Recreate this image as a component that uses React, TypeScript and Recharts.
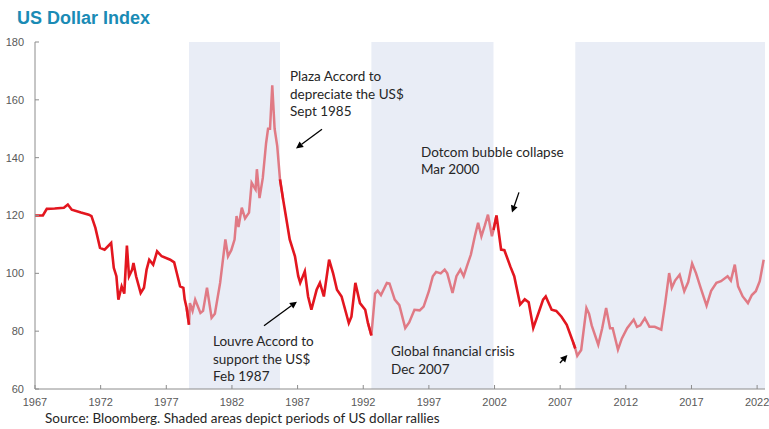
import React from "react";
import {
  ComposedChart,
  Line,
  XAxis,
  YAxis,
  ReferenceArea,
  ReferenceLine,
} from "recharts";

// decimal year of each reading
const years = [
  1967.0, 1967.6, 1967.9, 1968.5, 1969.2, 1969.5, 1969.8, 1970.5, 1971.1, 1971.3,
  1971.6, 1971.95, 1972.3, 1972.8, 1973.0, 1973.2, 1973.35, 1973.6, 1973.8, 1974.0,
  1974.16, 1974.4, 1974.5, 1974.7, 1975.05, 1975.3, 1975.5, 1975.7, 1976.0, 1976.3,
  1976.65, 1977.3, 1977.6, 1977.8, 1978.05, 1978.3, 1978.4, 1978.55, 1978.73, 1978.8,
  1979.0, 1979.2, 1979.6, 1979.8, 1980.1, 1980.45, 1980.7, 1981.1, 1981.5, 1981.7,
  1981.95, 1982.2, 1982.35, 1982.5, 1982.75, 1983.0, 1983.3, 1983.5, 1983.8, 1983.9,
  1984.1, 1984.35, 1984.6, 1984.75, 1984.9, 1985.07, 1985.25, 1985.45, 1985.66, 1985.9,
  1986.1, 1986.4, 1986.8, 1987.05, 1987.2, 1987.55, 1987.8, 1988.05, 1988.45, 1988.7,
  1989.0, 1989.4, 1989.7, 1990.0, 1990.35, 1990.9, 1991.1, 1991.4, 1991.75, 1992.15,
  1992.35, 1992.62, 1992.9, 1993.1, 1993.35, 1993.8, 1994.0, 1994.4, 1994.75, 1995.2,
  1995.5, 1995.9, 1996.3, 1996.6, 1997.0, 1997.3, 1997.55, 1997.9, 1998.2, 1998.4,
  1998.8, 1999.1, 1999.4, 1999.65, 1999.9, 2000.2, 2000.5, 2000.75, 2001.0, 2001.25,
  2001.5, 2001.8, 2001.92, 2002.15, 2002.5, 2002.75, 2003.2, 2003.5, 2003.95, 2004.3,
  2004.6, 2004.95, 2005.35, 2005.7, 2005.9, 2006.35, 2006.7, 2007.1, 2007.5, 2008.0,
  2008.15, 2008.3, 2008.6, 2009.0, 2009.2, 2009.4, 2009.9, 2010.2, 2010.5, 2010.8,
  2011.0, 2011.4, 2011.7, 2012.1, 2012.6, 2012.85, 2013.1, 2013.45, 2013.8, 2014.2,
  2014.7, 2015.0, 2015.3, 2015.5, 2015.75, 2016.1, 2016.45, 2016.75, 2017.05, 2017.35,
  2017.7, 2018.15, 2018.5, 2018.9, 2019.25, 2019.75, 2020.0, 2020.3, 2020.55, 2020.9,
  2021.3, 2021.6, 2021.9, 2022.2, 2022.5,
];

const dxy = [
  120, 120, 122.3, 122.4, 122.7, 123.8, 122, 121, 120.3, 119.8,
  115.7, 108.8, 108.2, 110.5, 101.9, 99, 90.9, 95.5, 93, 109.6,
  99, 101.3, 103.6, 99, 93.2, 95, 101.3, 104.7, 103, 107.6,
  105.9, 104.7, 103.8, 100.1, 95.5, 95, 91, 88, 82.2, 89.7,
  87, 90.9, 86.3, 87, 95, 84.6, 86, 96.7, 111.7, 105.9,
  108, 111.7, 119.8, 116, 122.7, 119, 121, 131.3, 129, 136,
  126, 133, 145, 150, 150, 165, 150, 144, 132.5, 125.5,
  120, 111.7, 105.9, 99, 96.7, 100.7, 92, 87.4, 94.3, 96.7,
  92, 104.7, 100.1, 94.3, 92, 82.8, 85, 96.7, 89.7, 87.4,
  83, 78.5, 93, 94, 92.5, 96.7, 96.5, 90.9, 89, 81.1,
  83, 87.4, 87.2, 88.5, 93.8, 99, 100.5, 100, 101.3, 100,
  93.2, 99, 101.3, 99, 102.5, 106.5, 112.8, 117.5, 112.8, 116.4,
  120.3, 112.8, 115, 120, 108.2, 108, 102.4, 99, 89.2, 91,
  90, 81.1, 86.3, 90.9, 92, 87.4, 87, 85, 82.2, 76,
  74, 71.5, 73.5, 88, 86, 82, 75.3, 81, 88, 81,
  81, 73.6, 77.5, 81, 84, 81.5, 82, 84.5, 81.5, 81.5,
  80.5, 89.7, 100.1, 95, 97.5, 99.5, 93.8, 97, 103.4, 100,
  95, 88.8, 94, 96.7, 97.3, 99, 97.5, 103, 95.5, 92,
  89.7, 92.5, 93.8, 97.3, 104.7,
];

// periods of US dollar rallies (shaded)
const rallyStart = [1978.73, 1992.62, 2008.15];
const rallyEnd = [1985.66, 2001.92, 2022.6];

const xTicks = [1967, 1972, 1977, 1982, 1987, 1992, 1997, 2002, 2007, 2012, 2017, 2022];
const yTicks = [60, 80, 100, 120, 140, 160, 180];

// annotation arrows: [fromYear, fromValue, toYear, toValue]
const arrows = [
  [1988.86, 149.8, 1986.88, 143.2],
  [1984.44, 81.9, 1986.95, 90.2],
  [2003.86, 128.0, 2003.33, 121.0],
  [2006.98, 69.0, 2007.55, 71.8],
];

const RED = "#E3161F";
const PINK = "#E07A85";
const SHADE = "#E9EDF6";

const inRally = (t: number) =>
  rallyStart.some((s, i) => t >= s && t <= rallyEnd[i]);

const data = years.map((t, i) => {
  const r = inRally(t);
  const prevR = i > 0 ? inRally(years[i - 1]) : r;
  const nextR = i < years.length - 1 ? inRally(years[i + 1]) : r;
  return {
    t,
    falling: !r || !prevR || !nextR ? dxy[i] : null,
    rally: r || prevR || nextR ? dxy[i] : null,
  };
});

const Arrow = (p: any) => {
  const { x1, y1, x2, y2 } = p;
  const dx = x2 - x1;
  const dy = y2 - y1;
  const len = Math.sqrt(dx * dx + dy * dy) || 1;
  const ux = dx / len;
  const uy = dy / len;
  const hl = 7;
  const hw = 3.5;
  const bx = x2 - ux * hl;
  const by = y2 - uy * hl;
  return (
    <g>
      <line x1={x1} y1={y1} x2={bx} y2={by} stroke="#000" strokeWidth={1.3} />
      <polygon
        points={`${x2},${y2} ${bx - uy * hw},${by + ux * hw} ${bx + uy * hw},${by - ux * hw}`}
        fill="#000"
      />
    </g>
  );
};

const noteStyle: React.CSSProperties = {
  position: "absolute",
  fontFamily: "Lato, 'Noto Sans', sans-serif",
  fontSize: 13.5,
  lineHeight: "17.5px",
  color: "#262626",
  whiteSpace: "nowrap",
};

const tickFont = { fontFamily: "'Liberation Sans', Arial, sans-serif", fontSize: 11, fill: "#595959" };

export default function App() {
  return (
    <div style={{ position: "absolute", left: 0, top: 0, width: 769, height: 429, background: "#fff", overflow: "hidden" }}>
      <div
        style={{
          position: "absolute",
          left: 17,
          top: 9,
          fontFamily: "'Liberation Sans', Arial, sans-serif",
          fontWeight: 700,
          fontSize: 18,
          lineHeight: "18px",
          color: "#1A8BB5",
        }}
      >
        US Dollar Index
      </div>
      <div style={{ position: "absolute", left: 0, top: 0 }}>
        <ComposedChart
          width={769}
          height={429}
          data={data}
          margin={{ top: 42, right: 4, bottom: 20, left: 0 }}
        >
          {rallyStart.map((s, i) => (
            <ReferenceArea
              key={s}
              x1={s}
              x2={rallyEnd[i]}
              fill={SHADE}
              fillOpacity={1}
              stroke="none"
              ifOverflow="hidden"
            />
          ))}
          <XAxis
            dataKey="t"
            type="number"
            domain={[1967, 2022.6]}
            ticks={xTicks}
            allowDataOverflow
            height={20}
            stroke="#8C8C8C"
            tickSize={-4}
            tickMargin={13}
            tick={tickFont}
          />
          <YAxis
            type="number"
            domain={[60, 180]}
            ticks={yTicks}
            width={35}
            stroke="#8C8C8C"
            tickSize={-4}
            tickMargin={15}
            tick={tickFont}
          />
          <Line
            dataKey="rally"
            stroke={PINK}
            strokeWidth={2.5}
            dot={false}
            type="linear"
            connectNulls={false}
            isAnimationActive={false}
          />
          <Line
            dataKey="falling"
            stroke={RED}
            strokeWidth={2.6}
            dot={false}
            type="linear"
            connectNulls={false}
            isAnimationActive={false}
          />
          {arrows.map((a, i) => (
            <ReferenceLine
              key={i}
              segment={[
                { x: a[0], y: a[1] },
                { x: a[2], y: a[3] },
              ]}
              shape={Arrow}
            />
          ))}
        </ComposedChart>
      </div>
      <div style={{ ...noteStyle, left: 290, top: 68 }}>
        Plaza Accord to
        <br />
        depreciate the US$
        <br />
        Sept 1985
      </div>
      <div style={{ ...noteStyle, left: 213, top: 333 }}>
        Louvre Accord to
        <br />
        support the US$
        <br />
        Feb 1987
      </div>
      <div style={{ ...noteStyle, left: 421, top: 143.5 }}>
        Dotcom bubble collapse
        <br />
        Mar 2000
      </div>
      <div style={{ ...noteStyle, left: 391, top: 343 }}>
        Global financial crisis
        <br />
        Dec 2007
      </div>
      <div style={{ ...noteStyle, left: 45, top: 410 }}>
        Source: Bloomberg. Shaded areas depict periods of US dollar rallies
      </div>
    </div>
  );
}
